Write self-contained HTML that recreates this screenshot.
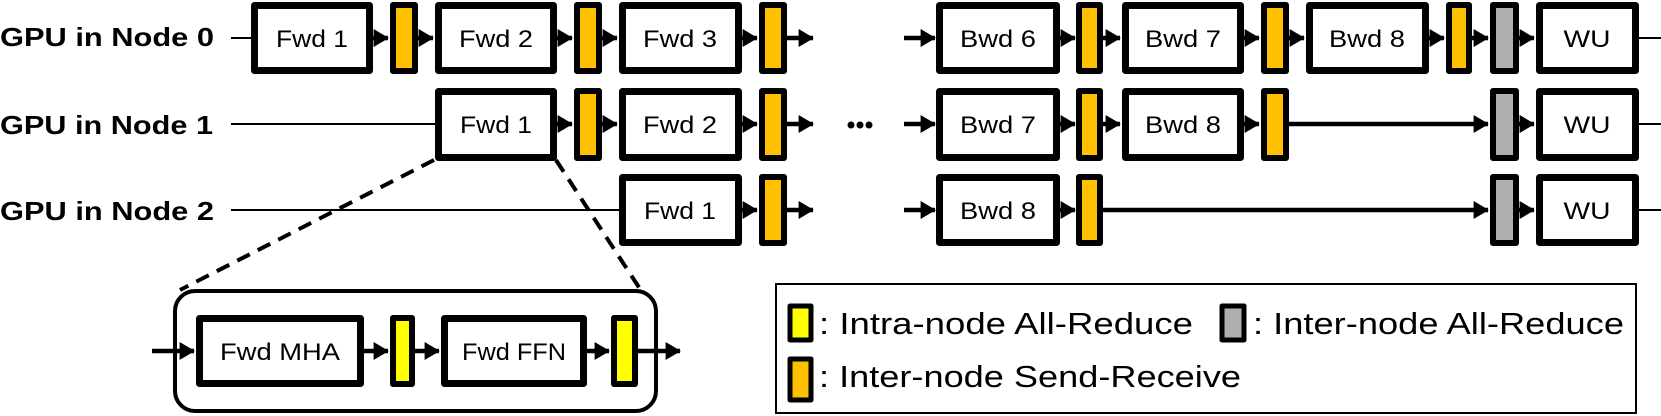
<!DOCTYPE html>
<html><head><meta charset="utf-8"><style>
html,body{margin:0;padding:0;background:#fff;}
svg{display:block;}
text{font-family:"Liberation Sans",sans-serif;}
</style></head><body>
<svg width="1661" height="416" viewBox="0 0 1661 416" xmlns="http://www.w3.org/2000/svg">
<defs>
<marker id="ah" markerWidth="4" markerHeight="4" refX="3.2" refY="2" orient="auto" markerUnits="strokeWidth">
<path d="M0,0 L3.4,2 L0,4 Z" fill="#000"/>
</marker>
</defs>
<g font-weight="bold" font-size="26" fill="#000">
<text x="0" y="46" textLength="214" lengthAdjust="spacingAndGlyphs">GPU in Node 0</text>
<text x="0" y="134" textLength="213" lengthAdjust="spacingAndGlyphs">GPU in Node 1</text>
<text x="0" y="220" textLength="214" lengthAdjust="spacingAndGlyphs">GPU in Node 2</text>
</g>
<g stroke="#000" stroke-width="2" fill="none">
<line x1="231" y1="38" x2="252" y2="38"/>
<line x1="231" y1="124" x2="436" y2="124"/>
<line x1="231" y1="210" x2="620" y2="210"/>
<line x1="1638" y1="38" x2="1661" y2="38"/>
<line x1="1638" y1="124" x2="1661" y2="124"/>
<line x1="1638" y1="210" x2="1661" y2="210"/>
</g>
<g stroke="#000" stroke-width="4" stroke-dasharray="14,9" fill="none">
<line x1="434" y1="160" x2="180" y2="290"/>
<line x1="556" y1="160" x2="642" y2="292"/>
</g>
<g stroke="#000" stroke-width="4.5" fill="none" marker-end="url(#ah)">
<line x1="373" y1="38" x2="388" y2="38"/>
<line x1="418" y1="38" x2="433" y2="38"/>
<line x1="557" y1="38" x2="572" y2="38"/>
<line x1="602" y1="38" x2="617" y2="38"/>
<line x1="742" y1="38" x2="757" y2="38"/>
<line x1="787" y1="38" x2="813" y2="38"/>
<line x1="557" y1="124" x2="572" y2="124"/>
<line x1="602" y1="124" x2="617" y2="124"/>
<line x1="742" y1="124" x2="757" y2="124"/>
<line x1="787" y1="124" x2="813" y2="124"/>
<line x1="742" y1="210" x2="757" y2="210"/>
<line x1="787" y1="210" x2="813" y2="210"/>
<line x1="904" y1="38" x2="935" y2="38"/>
<line x1="904" y1="124" x2="935" y2="124"/>
<line x1="904" y1="210" x2="935" y2="210"/>
<line x1="1060" y1="38" x2="1075" y2="38"/>
<line x1="1103" y1="38" x2="1120" y2="38"/>
<line x1="1244" y1="38" x2="1259" y2="38"/>
<line x1="1289" y1="38" x2="1304" y2="38"/>
<line x1="1429" y1="38" x2="1444" y2="38"/>
<line x1="1472" y1="38" x2="1488" y2="38"/>
<line x1="1519" y1="38" x2="1534" y2="38"/>
<line x1="1060" y1="124" x2="1075" y2="124"/>
<line x1="1103" y1="124" x2="1120" y2="124"/>
<line x1="1244" y1="124" x2="1259" y2="124"/>
<line x1="1289" y1="124" x2="1488" y2="124"/>
<line x1="1519" y1="124" x2="1534" y2="124"/>
<line x1="1060" y1="210" x2="1075" y2="210"/>
<line x1="1103" y1="210" x2="1488" y2="210"/>
<line x1="1519" y1="210" x2="1534" y2="210"/>
<line x1="152" y1="351" x2="194" y2="351"/>
<line x1="364" y1="351" x2="388" y2="351"/>
<line x1="415" y1="351" x2="439" y2="351"/>
<line x1="587" y1="351" x2="609" y2="351"/>
<line x1="638" y1="351" x2="680" y2="351"/>
</g>
<g stroke="#000" stroke-width="7" fill="#fff" stroke-linejoin="round">
<rect x="254.5" y="5.5" width="115" height="65"/>
<rect x="438.5" y="5.5" width="115" height="65"/>
<rect x="622.5" y="5.5" width="116" height="65"/>
<rect x="438.5" y="91.5" width="115" height="66"/>
<rect x="622.5" y="91.5" width="116" height="66"/>
<rect x="622.5" y="177.5" width="116" height="65"/>
<rect x="939.5" y="5.5" width="117" height="65"/>
<rect x="1125.5" y="5.5" width="115" height="65"/>
<rect x="1309.5" y="5.5" width="116" height="65"/>
<rect x="1539.5" y="5.5" width="96" height="65"/>
<rect x="939.5" y="91.5" width="117" height="66"/>
<rect x="1125.5" y="91.5" width="115" height="66"/>
<rect x="1539.5" y="91.5" width="96" height="66"/>
<rect x="939.5" y="177.5" width="117" height="65"/>
<rect x="1539.5" y="177.5" width="96" height="65"/>
<rect x="199.5" y="318.5" width="161" height="65"/>
<rect x="444.5" y="318.5" width="139" height="65"/>
</g>
<g stroke="#000" stroke-width="6" fill="#FFC000" stroke-linejoin="round">
<rect x="393" y="5" width="22" height="66"/>
<rect x="577" y="5" width="22" height="66"/>
<rect x="762" y="5" width="22" height="66"/>
<rect x="577" y="91" width="22" height="67"/>
<rect x="762" y="91" width="22" height="67"/>
<rect x="762" y="177" width="22" height="66"/>
<rect x="1079" y="5" width="21" height="66"/>
<rect x="1264" y="5" width="22" height="66"/>
<rect x="1449" y="5" width="20" height="66"/>
<rect x="1079" y="91" width="21" height="67"/>
<rect x="1264" y="91" width="22" height="67"/>
<rect x="1079" y="177" width="21" height="66"/>
</g>
<g stroke="#000" stroke-width="6" fill="#B0B0B0" stroke-linejoin="round">
<rect x="1493" y="5" width="23" height="66"/>
<rect x="1493" y="91" width="23" height="67"/>
<rect x="1493" y="177" width="23" height="66"/>
</g>
<g stroke="#000" stroke-width="6" fill="#FFFF00" stroke-linejoin="round">
<rect x="393" y="318" width="19" height="66"/>
<rect x="614" y="318" width="21" height="66"/>
</g>
<rect x="175" y="291" width="481" height="120" rx="20" ry="20" fill="none" stroke="#000" stroke-width="4"/>
<g font-size="24" fill="#000" text-anchor="middle">
<text x="312" y="47" textLength="72" lengthAdjust="spacingAndGlyphs">Fwd 1</text>
<text x="496" y="47" textLength="74" lengthAdjust="spacingAndGlyphs">Fwd 2</text>
<text x="680" y="47" textLength="74" lengthAdjust="spacingAndGlyphs">Fwd 3</text>
<text x="496" y="133" textLength="72" lengthAdjust="spacingAndGlyphs">Fwd 1</text>
<text x="680" y="133" textLength="74" lengthAdjust="spacingAndGlyphs">Fwd 2</text>
<text x="680" y="219" textLength="72" lengthAdjust="spacingAndGlyphs">Fwd 1</text>
<text x="998" y="47" textLength="76" lengthAdjust="spacingAndGlyphs">Bwd 6</text>
<text x="1183" y="47" textLength="76" lengthAdjust="spacingAndGlyphs">Bwd 7</text>
<text x="1367" y="47" textLength="76" lengthAdjust="spacingAndGlyphs">Bwd 8</text>
<text x="1587" y="47" textLength="47" lengthAdjust="spacingAndGlyphs">WU</text>
<text x="998" y="133" textLength="76" lengthAdjust="spacingAndGlyphs">Bwd 7</text>
<text x="1183" y="133" textLength="76" lengthAdjust="spacingAndGlyphs">Bwd 8</text>
<text x="1587" y="133" textLength="47" lengthAdjust="spacingAndGlyphs">WU</text>
<text x="998" y="219" textLength="76" lengthAdjust="spacingAndGlyphs">Bwd 8</text>
<text x="1587" y="219" textLength="47" lengthAdjust="spacingAndGlyphs">WU</text>
<text x="280" y="360" textLength="120" lengthAdjust="spacingAndGlyphs">Fwd MHA</text>
<text x="514" y="360" textLength="104" lengthAdjust="spacingAndGlyphs">Fwd FFN</text>
</g>
<g fill="#000"><circle cx="851" cy="125" r="3.5"/><circle cx="860" cy="125" r="3.5"/><circle cx="869" cy="125" r="3.5"/></g>
<rect x="776" y="284" width="860" height="129" fill="#fff" stroke="#000" stroke-width="2"/>
<g stroke="#000" stroke-width="5" stroke-linejoin="round">
<rect x="790" y="306" width="21" height="34" fill="#FFFF00"/>
<rect x="1222" y="306" width="22" height="34" fill="#B0B0B0"/>
<rect x="790" y="359" width="21" height="41" fill="#FFC000"/>
</g>
<g font-size="31" fill="#000">
<text x="819" y="334" textLength="374" lengthAdjust="spacingAndGlyphs">: Intra-node All-Reduce</text>
<text x="1253" y="334" textLength="371" lengthAdjust="spacingAndGlyphs">: Inter-node All-Reduce</text>
<text x="819" y="387" textLength="422" lengthAdjust="spacingAndGlyphs">: Inter-node Send-Receive</text>
</g>
</svg>
</body></html>
